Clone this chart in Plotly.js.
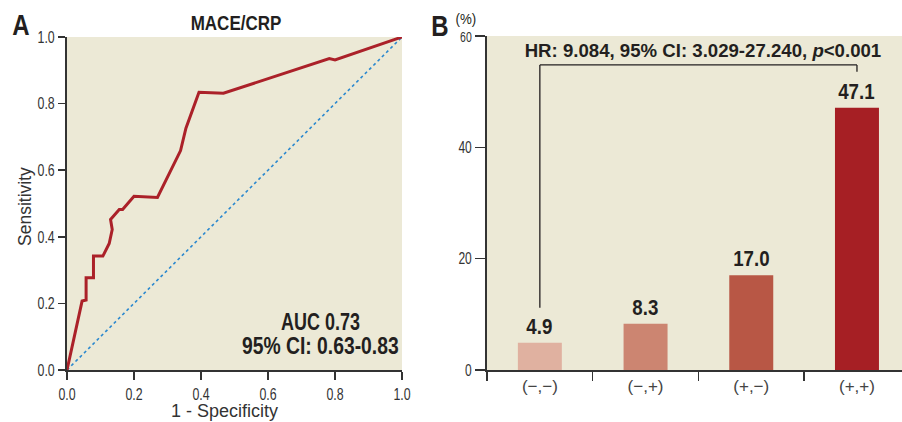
<!DOCTYPE html>
<html>
<head>
<meta charset="utf-8">
<script src="https://cdn.plot.ly/plotly-3.0.1.min.js"></script>
<style>html,body{margin:0;padding:0;background:#fff;}#chart{width:902px;height:422px;}</style>
</head>
<body>
<div id="chart"></div>
<script>
// ROC curve (panel A)
const rocFPR = [0, 0.045, 0.057, 0.057, 0.079, 0.079, 0.107, 0.126, 0.135, 0.130, 0.156, 0.166, 0.200, 0.270, 0.339, 0.355, 0.394, 0.467, 0.783, 0.800, 1.0];
const rocTPR = [0, 0.207, 0.210, 0.277, 0.277, 0.342, 0.342, 0.380, 0.422, 0.452, 0.482, 0.482, 0.522, 0.518, 0.659, 0.726, 0.834, 0.831, 0.935, 0.931, 1.0];
const refLine = [0, 1];
const rocTicks = [0, 0.2, 0.4, 0.6, 0.8, 1.0];
const rocTickText = ["0.0", "0.2", "0.4", "0.6", "0.8", "1.0"];

// Bars (panel B)
const groups = ["(\u2212,\u2212)", "(\u2212,+)", "(+,\u2212)", "(+,+)"];
const eventRates = [4.9, 8.3, 17.0, 47.1];
const eventLabels = ["4.9", "8.3", "17.0", "47.1"];
const barColors = ["#e0b1a0", "#cc8571", "#b85745", "#a61f24"];
const pctTicks = [0, 20, 40, 60];
const pctTickText = ["0", "20", "40", "<span style='font-size:14px'>60</span>"];

const FONT = "'Liberation Sans', Arial, sans-serif";
const BG = "#ece9d6";
const INK = "#231f20";

const traces = [
  {x: refLine, y: refLine, xaxis: "x", yaxis: "y", mode: "lines",
   line: {color: "#2a88cf", width: 1.6, dash: "dot"}, hoverinfo: "skip"},
  {x: rocFPR, y: rocTPR, xaxis: "x", yaxis: "y", mode: "lines",
   line: {color: "#ab2129", width: 3}, hoverinfo: "skip"},
  {x: groups, y: eventRates, xaxis: "x2", yaxis: "y2", type: "bar",
   marker: {color: barColors}, width: 0.416, hoverinfo: "skip"}
];

function px(xp, yp) { return {xref: "paper", yref: "paper", x: xp / 902, y: 1 - yp / 422}; }
const annotations = [];
const squeeze = [];
function addAnn(obj, f) { annotations.push(Object.assign({showarrow: false}, obj)); squeeze.push(f); }

addAnn(Object.assign(px(8, 24), {text: "<b>A</b>", xanchor: "left", yanchor: "middle", font: {family: FONT, size: 30, color: INK}}), 0.8);
addAnn(Object.assign(px(427, 25.5), {text: "<b>B</b>", xanchor: "left", yanchor: "middle", font: {family: FONT, size: 30, color: INK}}), 0.8);
addAnn(Object.assign(px(236, 22.5), {text: "<b>MACE/CRP</b>", xanchor: "center", yanchor: "middle", font: {family: FONT, size: 21, color: INK}}), 0.81);
addAnn(Object.assign(px(320.5, 322), {text: "<b>AUC 0.73</b>", xanchor: "center", yanchor: "middle", font: {family: FONT, size: 23, color: INK}}), 0.78);
addAnn(Object.assign(px(320, 346), {text: "<b>95% CI: 0.63-0.83</b>", xanchor: "center", yanchor: "middle", font: {family: FONT, size: 23, color: INK}}), 0.84);
addAnn(Object.assign(px(224.7, 411), {text: "1 - Specificity", xanchor: "center", yanchor: "middle", font: {family: FONT, size: 18, color: "#333"}}), 1);
addAnn(Object.assign(px(25, 207), {text: "Sensitivity", textangle: -90, xanchor: "center", yanchor: "middle", font: {family: FONT, size: 17.5, color: "#333"}}), 1);
addAnn(Object.assign(px(466, 19), {text: "(%)", xanchor: "center", yanchor: "middle", font: {family: FONT, size: 14, color: INK}}), 0.95);
addAnn(Object.assign(px(702.5, 50), {text: "<b>HR: 9.084, 95% CI: 3.029-27.240, <i>p</i><0.001</b>", xanchor: "center", yanchor: "middle", font: {family: FONT, size: 19, color: INK}}), 0.98);
groups.forEach((g, i) => {
  addAnn({text: "<b>" + eventLabels[i] + "</b>", xref: "x2", yref: "y2", x: g, y: eventRates[i],
    xanchor: "center", yanchor: "bottom", yshift: 2, font: {family: FONT, size: 22, color: INK}}, 0.85);
});

const lineStyle = {color: INK, width: 1.3};
const shapes = [
  {type: "line", xref: "x2", yref: "y2", x0: 0, x1: 0, y0: 11.2, y1: 54.8, line: lineStyle},
  {type: "line", xref: "x2", yref: "y2", x0: 0, x1: 3, y0: 54.8, y1: 54.8, line: lineStyle},
  {type: "line", xref: "x2", yref: "y2", x0: 3, x1: 3, y0: 54.8, y1: 53.6, line: lineStyle}
];

const axisCommon = {showgrid: false, zeroline: false, showline: true, linecolor: "#333", linewidth: 2,
  ticks: "outside", tickwidth: 1.5, tickcolor: "#333"};

const layout = {
  width: 902, height: 422,
  margin: {l: 0, r: 0, t: 0, b: 0},
  paper_bgcolor: "#ffffff",
  plot_bgcolor: BG,
  showlegend: false,
  annotations: annotations,
  shapes: shapes,
  xaxis: Object.assign({}, axisCommon, {domain: [67/902, 402/902], anchor: "y", range: [0, 1],
    tickvals: rocTicks, ticktext: rocTickText, ticklen: 8,
    tickfont: {family: FONT, size: 16.5, color: "#333"}}),
  yaxis: Object.assign({}, axisCommon, {domain: [52/422, 385/422], anchor: "x", range: [0, 1],
    tickvals: rocTicks, ticktext: rocTickText, ticklen: 7,
    tickfont: {family: FONT, size: 16.5, color: "#333"}}),
  xaxis2: Object.assign({}, axisCommon, {domain: [487/902, 1], anchor: "y2", type: "category", range: [-0.5, 3.426],
    tickson: "boundaries", ticklen: 9,
    tickfont: {family: FONT, size: 17, color: "#444"}}),
  yaxis2: Object.assign({}, axisCommon, {domain: [52/422, 386/422], anchor: "x2", range: [0, 60],
    tickvals: pctTicks, ticktext: pctTickText, ticklen: 10,
    tickfont: {family: FONT, size: 16, color: "#333"}})
};

function condense(el, f) {
  if (!el || f === 1) return;
  const w = el.getComputedTextLength();
  if (w > 0) {
    el.setAttribute("textLength", (w * f).toFixed(2));
    el.setAttribute("lengthAdjust", "spacingAndGlyphs");
  }
}

const gd = document.getElementById("chart");
Plotly.newPlot(gd, traces, layout, {displayModeBar: false, staticPlot: true}).then(() => {
  const annTexts = gd.querySelectorAll(".annotation-text");
  annTexts.forEach((el, i) => condense(el, squeeze[i]));
  gd.querySelectorAll(".xtick text, .ytick text, .y2tick text").forEach(el => condense(el, 0.75));
});
</script>
</body>
</html>
